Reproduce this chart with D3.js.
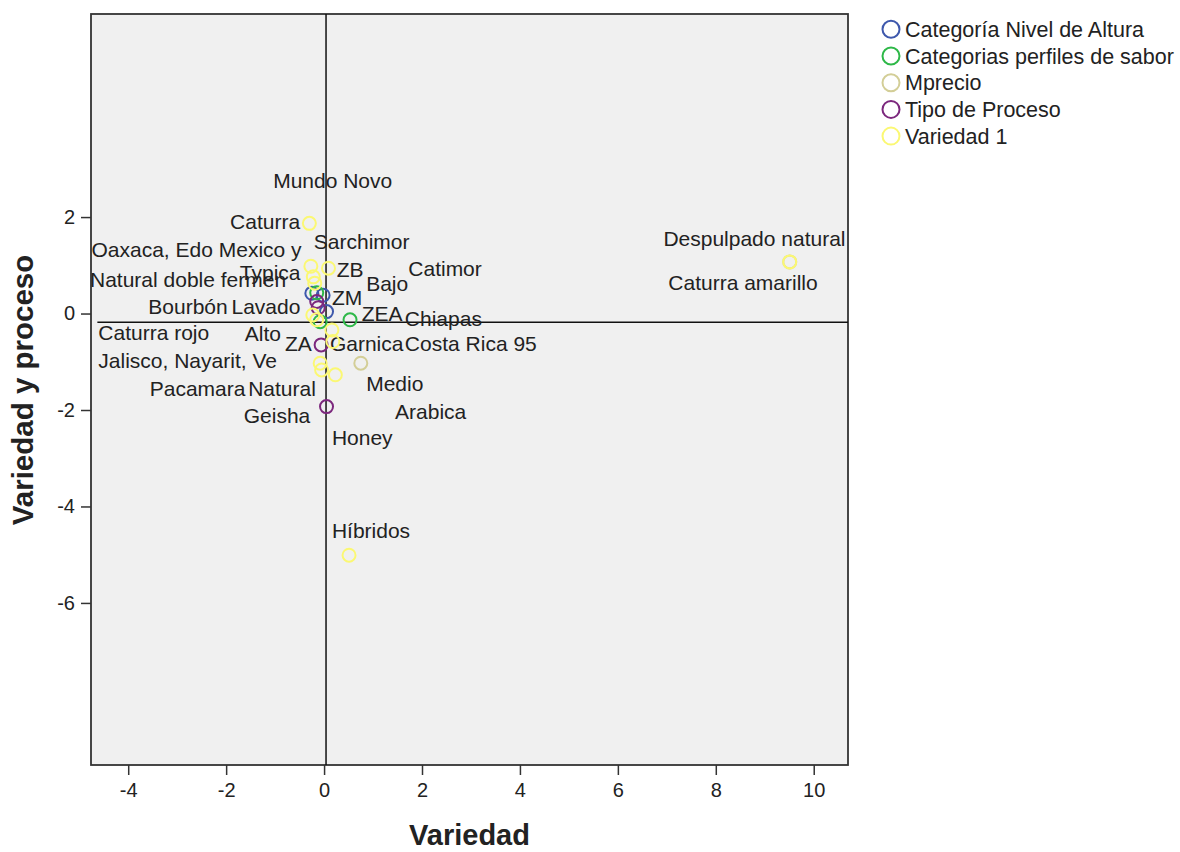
<!DOCTYPE html>
<html><head><meta charset="utf-8">
<script src="https://cdn.jsdelivr.net/npm/d3@7"></script>
<style>
html,body{margin:0;padding:0;background:#fff;}
svg{display:block;font-family:"Liberation Sans",Arial,sans-serif;}
</style></head>
<body><svg id="c" width="1180" height="852"></svg>
<script>
// ---- data ----
const seriesNames = ["Categoría Nivel de Altura","Categorias perfiles de sabor","Mprecio","Tipo de Proceso","Variedad 1"];
const seriesColors = ["#3E58AC","#2EB848","#D3CE97","#7C287D","#FBF873"];
const xTicks = [-4,-2,0,2,4,6,8,10];
const yTicks = [-6,-4,-2,0,2];
const xTitle = "Variedad";
const yTitle = "Variedad y proceso";
const refX = 0.04;
const refY = -0.18;

const alturaPts = [[-0.25,0.42],[-0.02,0.38],[0.05,0.04]];
const saborPts = [[-0.15,0.43],[-0.08,-0.17],[0.53,-0.13]];
const precioPts = [[0.75,-1.03],[9.51,1.07]];
const procesoPts = [[-0.15,0.25],[-0.12,0.12],[-0.06,-0.65],[0.05,-1.93]];
const variedadPts = [[-0.30,1.87],[-0.27,0.98],[0.09,0.94],[-0.22,0.76],[-0.19,0.63],[-0.23,-0.03],[-0.15,-0.13],
  [0.16,-0.34],[0.18,-0.58],[-0.08,-1.03],[-0.05,-1.17],[0.23,-1.27],[0.51,-5.01],[9.51,1.07]];
const seriesPoints = [alturaPts, saborPts, precioPts, procesoPts, variedadPts];

// point labels: text and anchor in data units
const labelText = ["Mundo Novo","Caturra","Sarchimor","Oaxaca, Edo Mexico y","Typica","Natural doble fermen","ZB","Catimor","Bajo","ZM",
  "Bourbón","Lavado","ZEA","Chiapas","Caturra rojo","Alto","ZA","Garnica","Costa Rica 95","Jalisco, Nayarit, Ve",
  "Pacamara","Natural","Medio","Geisha","Arabica","Honey","Híbridos","Despulpado natural","Caturra amarillo"];
const labelX = [-1.04,-1.92,-0.21,-4.75,-1.72,-4.78,0.26,1.72,0.86,0.16,
  -3.59,-1.89,0.77,1.65,-4.61,-1.62,-0.80,0.12,1.65,-4.61,
  -3.56,-1.55,0.86,-1.64,1.45,0.16,0.16,6.93,7.03];
const labelY = [2.75,1.90,1.49,1.32,0.84,0.71,0.90,0.94,0.61,0.32,
  0.14,0.14,-0.01,-0.10,-0.40,-0.41,-0.62,-0.62,-0.62,-0.98,
  -1.55,-1.55,-1.46,-2.12,-2.04,-2.57,-4.50,1.56,0.64];

// ---- layout ----
const svg = d3.select("#c");
const L=91, R=848, T=14, B=765;
const x = d3.scaleLinear().domain([-4.76,10.70]).range([L,R]);
const y = d3.scaleLinear().domain([-9.36,6.21]).range([B,T]);

svg.append("rect").attr("x",L).attr("y",T).attr("width",R-L).attr("height",B-T)
  .attr("fill","#f0f0f0").attr("stroke","#333").attr("stroke-width",1.8);

const gx = svg.append("g").attr("transform",`translate(0,${B})`)
  .call(d3.axisBottom(x).tickValues(xTicks).tickSize(10).tickPadding(8).tickFormat(d3.format("d")));
const gy = svg.append("g").attr("transform",`translate(${L},0)`)
  .call(d3.axisLeft(y).tickValues(yTicks).tickSize(10).tickPadding(6).tickFormat(d3.format("d")));
[gx,gy].forEach(g=>{
  g.select(".domain").remove();
  g.selectAll(".tick line").attr("stroke","#333").attr("stroke-width",1.5);
  g.selectAll(".tick text").attr("fill","#222").style("font-size","20px").style("font-family","'Liberation Sans',Arial,sans-serif");
});
gy.selectAll(".tick text").text(d=>d<0?"-"+Math.abs(d):d);
gx.selectAll(".tick text").text(d=>d<0?"-"+Math.abs(d):d);

// reference lines
svg.append("line").attr("x1",x(refX)).attr("x2",x(refX)).attr("y1",T).attr("y2",B)
  .attr("stroke","#111").attr("stroke-width",1.5);
svg.append("line").attr("x1",x(-4.63)).attr("x2",R).attr("y1",y(refY)).attr("y2",y(refY))
  .attr("stroke","#111").attr("stroke-width",1.5);

// labels
const labels = labelText.map((t,i)=>({t, lx:labelX[i], ly:labelY[i]}));
svg.append("g").selectAll("text").data(labels).join("text")
  .attr("x",d=>x(d.lx)).attr("y",d=>y(d.ly)).attr("dy","0.35em")
  .attr("fill","#222").style("font-size","21px").text(d=>d.t);

// points
seriesPoints.forEach((pts,si)=>{
  svg.append("g").selectAll("circle").data(pts).join("circle")
    .attr("cx",d=>x(d[0])).attr("cy",d=>y(d[1])).attr("r",6.5)
    .attr("fill","none").attr("stroke",seriesColors[si]).attr("stroke-width",2);
});

// axis titles
svg.append("text").attr("x",(L+R)/2).attr("y",835).attr("dy","0.35em").attr("text-anchor","middle")
  .attr("fill","#222").style("font-size","29px").style("font-weight","bold").text(xTitle);
svg.append("text").attr("transform",`translate(23,390) rotate(-90)`).attr("dy","0.35em").attr("text-anchor","middle")
  .attr("fill","#222").style("font-size","29.5px").style("font-weight","bold").text(yTitle);

// legend
const lg = svg.append("g");
seriesNames.forEach((n,i)=>{
  const cy = 29.3 + i*26.7;
  lg.append("circle").attr("cx",891).attr("cy",cy).attr("r",8.5)
    .attr("fill","none").attr("stroke",seriesColors[i]).attr("stroke-width",2);
  lg.append("text").attr("x",905).attr("y",cy).attr("dy","0.35em").attr("fill","#222")
    .style("font-size","21.5px").text(n);
});
</script></body></html>
